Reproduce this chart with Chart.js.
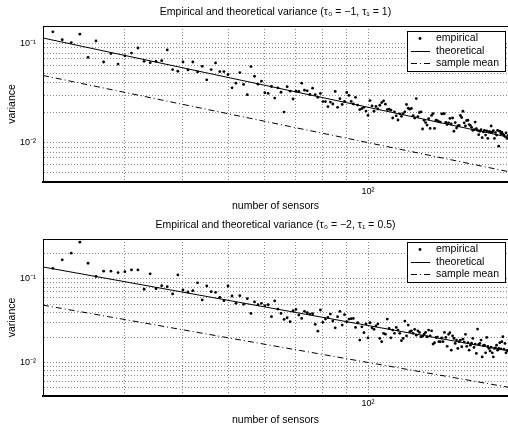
<!DOCTYPE html>
<html>
<head>
<meta charset="utf-8">
<script src="https://cdn.jsdelivr.net/npm/chart.js@4.4.1/dist/chart.umd.min.js"></script>
<style>
  html, body { margin: 0; padding: 0; background: #fff; overflow: hidden; }
  #wrap { position: relative; width: 508px; height: 432px; overflow: hidden; }
  canvas { position: absolute; left: 0; }
</style>
</head>
<body>
<div id="wrap">
  <canvas id="topChart" width="512" height="216" style="top:0"></canvas>
  <canvas id="bottomChart" width="512" height="216" style="top:216px"></canvas>
</div>
<script>
// number of sensors runs 21..200, one empirical point per value
const firstSensor = 21;
const lastSensor = 200;

const empiricalTop = [
  0.131, 0.109, 0.102, 0.124, 0.0724, 0.106, 0.065, 0.079, 0.062, 0.075,
  0.080, 0.090, 0.066, 0.064, 0.066, 0.067, 0.086, 0.0545, 0.0524, 0.065,
  0.054, 0.065, 0.0516, 0.0588, 0.0430, 0.0545, 0.0636, 0.052, 0.052, 0.0486,
  0.0357, 0.0397, 0.0508, 0.0386, 0.0304, 0.0584, 0.0467, 0.0388, 0.0416, 0.0318,
  0.0313, 0.0368, 0.0281, 0.0357, 0.0322, 0.0203, 0.0366, 0.0330, 0.0275, 0.0330,
  0.0328, 0.0397, 0.0338, 0.0333, 0.0306, 0.0354, 0.0304, 0.0286, 0.0313, 0.0259,
  0.0259, 0.0230, 0.0256, 0.0245, 0.0328, 0.0227, 0.0277, 0.0242, 0.0260, 0.0320,
  0.0299, 0.0260, 0.0245, 0.0286, 0.0239, 0.0215, 0.0220, 0.0227, 0.0208, 0.0188,
  0.0265, 0.0234, 0.0207, 0.0231, 0.0218, 0.0238, 0.0253, 0.0263, 0.0244, 0.0215,
  0.0217, 0.0212, 0.0177, 0.0204, 0.0186, 0.0169, 0.0195, 0.0184, 0.0196, 0.0204,
  0.0242, 0.0222, 0.0217, 0.0221, 0.0187, 0.0177, 0.0278, 0.0183, 0.0201, 0.0204,
  0.0137, 0.0168, 0.0159, 0.0150, 0.0174, 0.0139, 0.0188, 0.0196, 0.0139, 0.0168,
  0.0166, 0.0163, 0.0161, 0.0195, 0.0195, 0.0196, 0.0160, 0.0152, 0.0158, 0.0175,
  0.0154, 0.0177, 0.0130, 0.0159, 0.0140, 0.0147, 0.0149, 0.0188, 0.0179, 0.0207,
  0.0158, 0.0147, 0.0167, 0.0168, 0.0152, 0.0149, 0.0142, 0.0133, 0.0135, 0.0161,
  0.0138, 0.0133, 0.0120, 0.0130, 0.0135, 0.0112, 0.0128, 0.0133, 0.0119, 0.0131,
  0.0110, 0.0129, 0.0128, 0.0147, 0.0127, 0.0132, 0.0110, 0.0126, 0.0119, 0.0133,
  0.0092, 0.0130, 0.0123, 0.0127, 0.0121, 0.0119, 0.0115, 0.0125, 0.0110, 0.0118
];

const empiricalBottom = [
  0.134, 0.169, 0.203, 0.275, 0.154, 0.107, 0.124, 0.124, 0.119, 0.122,
  0.128, 0.128, 0.0753, 0.115, 0.0766, 0.0832, 0.0809, 0.0662, 0.1117, 0.0738,
  0.0698, 0.0725, 0.090, 0.0561, 0.0824, 0.0705, 0.0693, 0.0604, 0.055, 0.0824,
  0.0626, 0.0512, 0.0631, 0.0498, 0.058, 0.0388, 0.0531, 0.0492, 0.0512, 0.0479,
  0.0492, 0.0354, 0.0546, 0.0437, 0.0388, 0.0329, 0.0344, 0.0308, 0.0417, 0.0433,
  0.037, 0.0338, 0.041, 0.0395, 0.0381, 0.0384, 0.0287, 0.0238, 0.0426, 0.0303,
  0.0332, 0.0347, 0.0381, 0.0314, 0.0261, 0.0354, 0.041, 0.0281, 0.0374, 0.0308,
  0.0332, 0.0335, 0.0338, 0.0264, 0.0300, 0.0186, 0.0268, 0.0228, 0.029, 0.0198,
  0.0300, 0.0261, 0.0250, 0.0275, 0.0290, 0.0195, 0.0178, 0.0224, 0.0219, 0.0332,
  0.0256, 0.0198, 0.0245, 0.0224, 0.0264, 0.0245, 0.0224, 0.0183, 0.0195, 0.0314,
  0.0209, 0.0281, 0.0234, 0.0240, 0.0224, 0.0250, 0.0213, 0.0240, 0.0230, 0.0204,
  0.0207, 0.0219, 0.0230, 0.0204, 0.0245, 0.0209, 0.0240, 0.0167, 0.0173, 0.0200,
  0.0202, 0.0178, 0.0178, 0.0197, 0.0178, 0.0230, 0.0200, 0.0157, 0.0218, 0.0228,
  0.0141, 0.0209, 0.0195, 0.0170, 0.0186, 0.0148, 0.0178, 0.0186, 0.0155, 0.0191,
  0.0176, 0.0218, 0.0157, 0.0173, 0.0141, 0.0162, 0.0171, 0.0195, 0.0152, 0.0167,
  0.0129, 0.0252, 0.0165, 0.0170, 0.0186, 0.0117, 0.0160, 0.0162, 0.0131, 0.0200,
  0.0156, 0.0148, 0.0138, 0.0153, 0.0131, 0.0117, 0.0148, 0.0150, 0.0162, 0.0141,
  0.0148, 0.0173, 0.0146, 0.0178, 0.0204, 0.0145, 0.0170, 0.0131, 0.0140, 0.0138
];

// straight lines on log-log axes, given by their two end points
const lineEnds = [20, 200];
const theoreticalTop = [0.1135, 0.01135];
const sampleMeanTop = [0.0475, 0.0051];
const theoreticalBottom = [0.139, 0.0139];
const sampleMeanBottom = [0.0487, 0.0051];

const xGrid = [30, 40, 50, 60, 70, 80, 90, 100];
const yGrid = [0.005, 0.006, 0.007, 0.008, 0.009, 0.01, 0.02, 0.03, 0.04, 0.05,
               0.06, 0.07, 0.08, 0.09, 0.1, 0.2];
const xTickLabels = { 100: '10²' };
const yTickLabels = { 0.01: '10⁻²', 0.1: '10⁻¹' };

const sensors = Array.from({ length: lastSensor - firstSensor + 1 }, (_, i) => firstSensor + i);

const FONT = '"Liberation Sans", Arial, Helvetica, sans-serif';
const font = { family: FONT, size: 10.5, lineHeight: 1.2, weight: 'normal' };
const tickFont = { family: FONT, size: 9, lineHeight: 1.2, weight: 'normal' };
const GRID = '#8a8a8a';

// MATLAB style legend box in the upper right corner, plus the top edge of the axes box
const legendBox = {
  id: 'legendBox',
  afterDraw(chart, args, opts) {
    const { ctx, chartArea } = chart;
    ctx.save();
    ctx.strokeStyle = '#000';
    ctx.lineWidth = 1;
    ctx.beginPath();
    ctx.moveTo(chartArea.left, Math.round(chartArea.top) + 0.5);
    ctx.lineTo(chartArea.right, Math.round(chartArea.top) + 0.5);
    ctx.stroke();

    const w = 98, h = 40;
    const left = Math.round(chartArea.right - 3 - w);
    const top = Math.round(chartArea.top + opts.offset);
    ctx.fillStyle = '#fff';
    ctx.fillRect(left, top, w, h);
    ctx.strokeRect(left + 0.5, top + 0.5, w, h);
    ctx.font = '10.5px ' + FONT;
    ctx.textBaseline = 'middle';
    ctx.fillStyle = '#000';
    chart.data.datasets.forEach((ds, i) => {
      const y = top + 7.5 + i * 12.2;
      if (ds.showLine) {
        ctx.setLineDash(ds.borderDash || []);
        ctx.beginPath();
        ctx.moveTo(left + 4, Math.round(y) + 0.5);
        ctx.lineTo(left + 23, Math.round(y) + 0.5);
        ctx.stroke();
        ctx.setLineDash([]);
      } else {
        ctx.beginPath();
        ctx.arc(left + 13, y, 1.4, 0, Math.PI * 2);
        ctx.fill();
      }
      ctx.fillText(ds.label, left + 29, y);
    });
    ctx.restore();
  }
};

function pairs(xs, ys) {
  return xs.map((x, i) => ({ x: x, y: ys[i] }));
}

function makeChart(id, title, empirical, theoretical, sampleMean, yMax, lay) {
  return new Chart(document.getElementById(id), {
    type: 'scatter',
    data: {
      datasets: [
        { label: 'empirical', data: pairs(sensors, empirical), pointRadius: 1.4,
          pointBorderWidth: 0, backgroundColor: '#000', borderColor: '#000' },
        { label: 'theoretical', data: pairs(lineEnds, theoretical), showLine: true,
          pointRadius: 0, borderColor: '#000', borderWidth: 1 },
        { label: 'sample mean', data: pairs(lineEnds, sampleMean), showLine: true,
          pointRadius: 0, borderColor: '#000', borderWidth: 1, borderDash: [6, 3, 1, 3] }
      ]
    },
    options: {
      responsive: false,
      animation: false,
      devicePixelRatio: 1,
      events: [],
      layout: { padding: { left: 0, right: 1, top: 0, bottom: 0 } },
      plugins: {
        legend: { display: false },
        tooltip: { enabled: false },
        title: { display: true, text: title, font: font, color: '#000', fullSize: false,
                 padding: { top: lay.titleTop, bottom: lay.titleBottom } },
        legendBox: { offset: lay.legendOffset }
      },
      scales: {
        x: {
          type: 'logarithmic', min: 20, max: 200,
          afterFit: s => { s.height = lay.xHeight; },
          afterBuildTicks: s => { s.ticks = xGrid.map(v => ({ value: v })); },
          ticks: { autoSkip: false, maxRotation: 0, padding: lay.tickPad, font: tickFont, color: '#000',
                   callback: v => xTickLabels[v] || '' },
          grid: { color: GRID, lineWidth: 1, drawTicks: false },
          border: { display: true, color: '#000', width: 2, dash: [1, 2] },
          title: { display: true, text: 'number of sensors', font: font, color: '#000',
                   padding: { top: 0, bottom: lay.xTitlePad } }
        },
        y: {
          type: 'logarithmic', min: 0.004, max: yMax,
          afterFit: s => { s.width = 43; },
          afterBuildTicks: s => { s.ticks = yGrid.filter(v => v < s.max).map(v => ({ value: v })); },
          ticks: { autoSkip: false, padding: 7, font: tickFont, color: '#000',
                   callback: v => yTickLabels[v] || '' },
          grid: { color: GRID, lineWidth: 1, drawTicks: false },
          border: { display: true, color: '#000', width: 1, dash: [1, 2] },
          title: { display: true, text: 'variance', font: font, color: '#000',
                   padding: { top: 6.2, bottom: 0 } }
        }
      }
    },
    plugins: [legendBox]
  });
}

makeChart('topChart', 'Empirical and theoretical variance (τ₀ = −1, τ₁ = 1)',
  empiricalTop, theoreticalTop, sampleMeanTop, 0.15,
  { titleTop: 6.2, titleBottom: 7.2, xHeight: 34, tickPad: 4.6, xTitlePad: 3.7, legendOffset: 5 });

makeChart('bottomChart', 'Empirical and theoretical variance (τ₀ = −2, τ₁ = 0.5)',
  empiricalBottom, theoreticalBottom, sampleMeanBottom, 0.3,
  { titleTop: 2.7, titleBottom: 7.7, xHeight: 36, tickPad: 2.6, xTitlePad: 5.7, legendOffset: 3 });
</script>
</body>
</html>
